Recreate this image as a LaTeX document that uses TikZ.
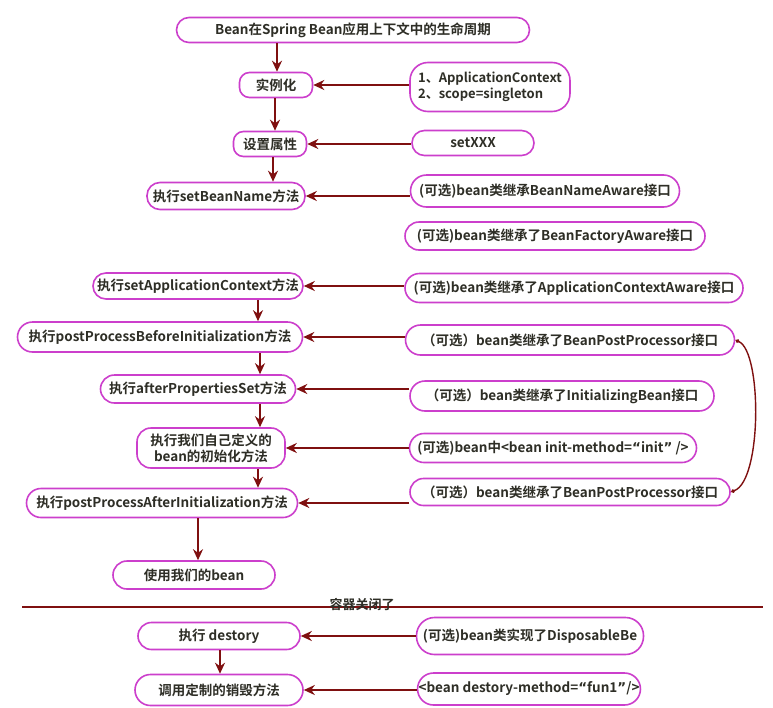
\documentclass[tikz,border=0pt]{standalone}
\usepackage{fontspec}
\setmainfont{Noto Sans CJK SC}[BoldFont={Noto Sans CJK SC Bold}]
\newfontfamily\latq{DejaVu Sans}
\usetikzlibrary{arrows.meta,calc}
\definecolor{bord}{HTML}{CC3FCC}
\definecolor{arrc}{HTML}{7F1010}
\definecolor{txt}{HTML}{2E2E26}
\begin{document}
\begin{tikzpicture}[x=1pt,y=-1pt,
  box/.style={draw=bord,line width=1.6pt,rounded corners=13pt,fill=white,
    text=txt,font=\fontsize{13.5}{16}\selectfont\bfseries,inner sep=1pt,align=center},
  arr/.style={draw=arrc,line width=1.8pt,-{Stealth[length=11pt,width=10pt]}},
  lnk/.style={draw=arrc,line width=1.4pt}]
\useasboundingbox (0,0) rectangle (773,707);
\fill[white] (0,0) rectangle (773,707);

\node[box,minimum width=353pt,minimum height=25pt,rounded corners=12.5pt] (top) at (353,30) {Bean在Spring Bean应用上下文中的生命周期};
\node[box,minimum width=73pt,minimum height=25pt,rounded corners=10pt] (shili) at (276,85) {实例化};
\node[box,minimum width=160pt,minimum height=49pt,align=left,rounded corners=18pt,font=\fontsize{13}{16}\selectfont\bfseries] (appctx) at (490,87) {1、ApplicationContext\\2、scope=singleton};
\node[box,minimum width=73pt,minimum height=25pt,rounded corners=10pt] (shezhi) at (270,144) {设置属性};
\node[box,minimum width=122pt,minimum height=25pt,rounded corners=12.5pt] (setxxx) at (473,143) {setXXX};
\node[box,minimum width=158pt,minimum height=27pt] (setbn) at (226,196) {执行setBeanName方法};
\node[box,minimum width=269pt,minimum height=32pt,rounded corners=16pt] (bna) at (545,191) {(可选)bean类继承BeanNameAware接口};
\node[box,minimum width=300pt,minimum height=28pt,rounded corners=14pt] (bfa) at (555,236) {(可选)bean类继承了BeanFactoryAware接口};
\node[box,minimum width=210pt,minimum height=26pt] (setac) at (198,286) {执行setApplicationContext方法};
\node[box,minimum width=338pt,minimum height=29pt,rounded corners=14.5pt] (aca) at (574,288) {(可选)bean类继承了ApplicationContextAware接口};
\node[box,minimum width=285pt,minimum height=30pt,rounded corners=15pt] (ppb) at (160,337) {执行postProcessBeforeInitialization方法};
\node[box,minimum width=329pt,minimum height=30pt,rounded corners=15pt] (bpp1) at (570,340) {（可选）bean类继承了BeanPostProcessor接口};
\node[box,minimum width=195pt,minimum height=28pt,rounded corners=14pt] (aps) at (198,389) {执行afterPropertiesSet方法};
\node[box,minimum width=304pt,minimum height=30pt,rounded corners=15pt] (ib) at (562,396) {（可选）bean类继承了InitializingBean接口};
\node[box,minimum width=148pt,minimum height=40pt,rounded corners=14pt,font=\fontsize{13.5}{16}\selectfont\bfseries] (custom) at (211,448) {执行我们自己定义的\\bean的初始化方法};
\node[box,minimum width=287pt,minimum height=29pt,rounded corners=14.5pt] (initm) at (553,448) {(可选)bean中<bean init-method={\latq “}init{\latq ”} />};
\node[box,minimum width=271pt,minimum height=29pt,rounded corners=14.5pt] (ppa) at (162,503) {执行postProcessAfterInitialization方法};
\node[box,minimum width=320pt,minimum height=27pt,rounded corners=13.5pt] (bpp2) at (570,492) {（可选）bean类继承了BeanPostProcessor接口};
\node[box,minimum width=162pt,minimum height=28pt,rounded corners=14pt] (use) at (194,575) {使用我们的bean};
\node[box,minimum width=162pt,minimum height=27pt,rounded corners=13.5pt] (destroy) at (219,636) {执行 destory};
\node[box,minimum width=227pt,minimum height=37pt,rounded corners=18pt] (disp) at (530,636) {(可选)bean类实现了DisposableBe};
\node[box,minimum width=168pt,minimum height=31pt,rounded corners=15.5pt] (callm) at (219,690) {调用定制的销毁方法};
\node[box,minimum width=222pt,minimum height=32pt,rounded corners=16pt] (destm) at (529,689) {<bean destory-method={\latq “}fun1{\latq ”}/>};

% vertical flow
\draw[arr] (top.south -| 277,0) -- (shili.north -| 277,0);
\draw[arr] (shili.south -| 275,0) -- (shezhi.north -| 275,0);
\draw[arr] (shezhi.south -| 273,0) -- (setbn.north -| 273,0);
\draw[arr] (setac.south -| 258,0) -- (ppb.north -| 258,0);
\draw[arr] (ppb.south -| 260,0) -- (aps.north -| 260,0);
\draw[arr] (aps.south -| 260,0) -- (custom.north -| 260,0);
\draw[arr] (custom.south -| 258,0) -- (ppa.north -| 258,0);
\draw[arr] (ppa.south -| 198,0) -- (use.north -| 198,0);
\draw[arr] (destroy.south -| 220,0) -- (callm.north -| 220,0);

% horizontal arrows
\draw[arr] (appctx.west |- shili) -- (shili.east);
\draw[arr] (setxxx.west |- shezhi) -- (shezhi.east);
\draw[arr] (bna.west |- setbn) -- (setbn.east);
\draw[arr] (aca.west |- setac) -- (setac.east);
\draw[arr] (bpp1.west |- ppb) -- (ppb.east);
\draw[arr] (ib.west |- aps) -- (aps.east);
\draw[arr] (initm.west |- custom) -- (custom.east);
\draw[arr] (bpp2.west |- ppa) -- (ppa.east);
\draw[arr] (disp.west |- destroy) -- (destroy.east);
\draw[arr] (destm.west |- callm) -- (callm.east);

% curve linking the two BeanPostProcessor boxes
\draw[lnk,{Diamond[length=5pt,width=4pt]}-{Diamond[length=5pt,width=4pt]}] (bpp1.east) .. controls (762,352) and (762,480) .. (bpp2.east);

% separator
\coordinate (sepL) at (22,607);
\coordinate (sepR) at (763,607);
\draw[draw=arrc,line width=1.8pt] (sepL) -- (sepR);
\node[text=txt,font=\fontsize{13}{15}\selectfont\bfseries,inner sep=0pt] (close) at (362,604) {容器关闭了};
\end{tikzpicture}
\end{document}
